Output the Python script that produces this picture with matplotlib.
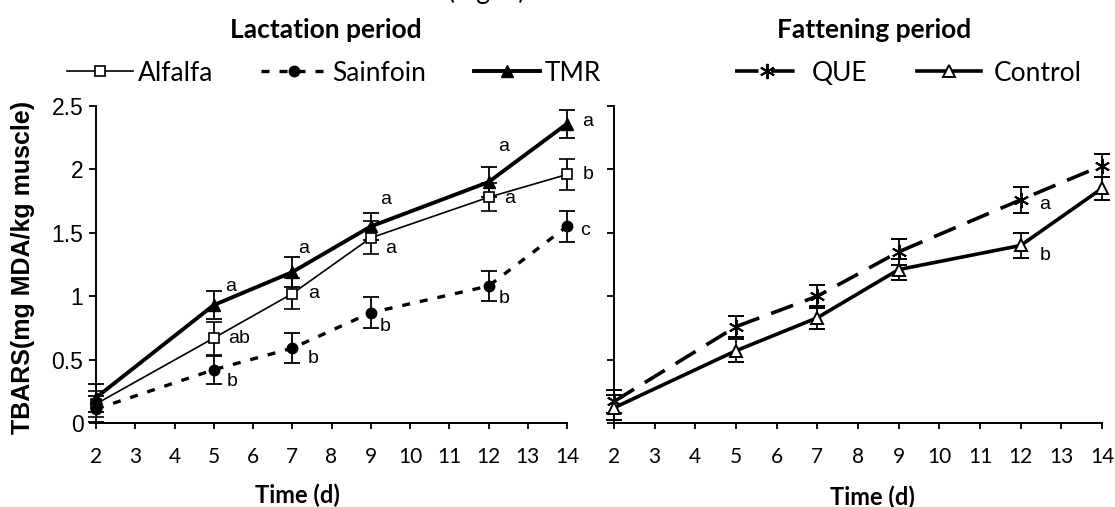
import matplotlib
matplotlib.use("Agg")
import matplotlib.pyplot as plt
from matplotlib.lines import Line2D

# ---------------- data ----------------
days = [2, 5, 7, 9, 12, 14]

alfalfa = [0.15, 0.67, 1.02, 1.46, 1.78, 1.96]
alfalfa_err = [0.10, 0.13, 0.12, 0.13, 0.11, 0.12]
sainfoin = [0.11, 0.42, 0.59, 0.87, 1.08, 1.55]
sainfoin_err = [0.10, 0.11, 0.12, 0.12, 0.12, 0.12]
tmr = [0.20, 0.93, 1.19, 1.55, 1.90, 2.36]
tmr_err = [0.11, 0.11, 0.12, 0.11, 0.12, 0.11]

que = [0.17, 0.76, 1.00, 1.35, 1.76, 2.03]
que_err = [0.09, 0.08, 0.09, 0.10, 0.10, 0.09]
control = [0.12, 0.57, 0.83, 1.21, 1.40, 1.85]
control_err = [0.10, 0.09, 0.09, 0.08, 0.10, 0.09]

alfalfa_lbl = ["", "ab", "a", "a", "a", "b"]
sainfoin_lbl = ["", "b", "b", "b", "b", "c"]
tmr_lbl = ["", "a", "a", "a", "a", "a"]
que_lbl = ["", "", "", "", "a", ""]
control_lbl = ["", "", "", "", "b", ""]

xticks = list(range(2, 15))
yticks = [0, 0.5, 1, 1.5, 2, 2.5]
ytick_labels = ["0", "0.5", "1", "1.5", "2", "2.5"]

CAL = ["Lato", "DejaVu Sans"]
ARI = ["Liberation Sans", "DejaVu Sans"]

fig = plt.figure(figsize=(11.15, 5.07), dpi=100)
W, H = 1115, 507

def px_axes(x0, x1, ytop, ybot):
    return fig.add_axes([x0 / W, 1 - ybot / H, (x1 - x0) / W, (ybot - ytop) / H])

axL = px_axes(96, 567, 106, 423)
axR = px_axes(614, 1102, 106, 423)

def style(ax, show_ylabels):
    ax.set_xlim(2, 14)
    ax.set_ylim(0, 2.5)
    for s in ["top", "right"]:
        ax.spines[s].set_visible(False)
    for s in ["left", "bottom"]:
        ax.spines[s].set_linewidth(1.4)
        ax.spines[s].set_color("black")
    ax.set_xticks(xticks)
    ax.set_xticklabels([str(t) for t in xticks], fontfamily=CAL, fontsize=15)
    ax.set_yticks(yticks)
    if show_ylabels:
        ax.set_yticklabels(ytick_labels, fontfamily=ARI, fontsize=16.5)
    else:
        ax.set_yticklabels([])
    ax.tick_params(axis="x", direction="out", length=4.5, width=1.3, pad=13)
    ax.tick_params(axis="y", direction="out", length=5, width=1.3, pad=4)
    ax.patch.set_alpha(0)

style(axL, True)
style(axR, False)
axL.set_ylabel("TBARS(mg MDA/kg muscle)", fontfamily=ARI, fontsize=18,
               fontweight="bold", labelpad=4)
axL.yaxis.set_label_coords(23 / W, 1 - 267 / H, transform=fig.transFigure)
axL.yaxis.label.set_verticalalignment("center")

fig.text(297 / W, 1 - 495 / H, "Time (d)", fontfamily=CAL, fontsize=17,
         fontweight="bold", ha="center", va="center")
fig.text(872 / W, 1 - 497 / H, "Time (d)", fontfamily=CAL, fontsize=17,
         fontweight="bold", ha="center", va="center")

eb_kw = dict(ecolor="black", elinewidth=1.3, capsize=6, capthick=1.3, zorder=3)

def series(ax, y, err, **kw):
    ax.errorbar(days, y, yerr=err, color="black", clip_on=False, **eb_kw, **kw)

alf_style = dict(lw=1.2, marker="s", ms=7, mfc="white", mec="black", mew=1.2)
sai_style = dict(lw=2.4, ls=(0, (2.4, 3.0)), marker="o", ms=7.5, mfc="black", mec="black")
tmr_style = dict(lw=2.8, marker="^", ms=8.5, mfc="black", mec="black")
que_style = dict(lw=2.6, ls=(0, (6.5, 3.5)), marker=(6, 2, 0), ms=11,
                 mfc="black", mec="black", mew=1.4)
con_style = dict(lw=2.6, marker="^", ms=9, mfc="white", mec="black", mew=1.4)

series(axL, alfalfa, alfalfa_err, **alf_style)
series(axL, sainfoin, sainfoin_err, **sai_style)
series(axL, tmr, tmr_err, **tmr_style)
series(axR, que, que_err, **que_style)
series(axR, control, control_err, **con_style)

# letters (centre offsets from each point)
def letters(ax, y, labels, dx, dy):
    for d, v, l, ox, oy in zip(days, y, labels, dx, dy):
        if l:
            ax.text(d + ox, v + oy, l, fontfamily=ARI, fontsize=14,
                    ha="center", va="center")

letters(axL, tmr, tmr_lbl, [0, 0.43, 0.29, 0.37, 0.39, 0.53],
        [0, 0.15, 0.19, 0.21, 0.28, 0.02])
letters(axL, alfalfa, alfalfa_lbl, [0, 0.65, 0.54, 0.50, 0.54, 0.53],
        [0, 0.0, 0.0, -0.08, -0.01, 0.0])
letters(axL, sainfoin, sainfoin_lbl, [0, 0.46, 0.54, 0.37, 0.39, 0.47],
        [0, -0.09, -0.08, -0.11, -0.10, -0.03])
letters(axR, que, que_lbl, [0, 0, 0, 0, 0.6, 0], [0, 0, 0, 0, -0.04, 0])
letters(axR, control, control_lbl, [0, 0, 0, 0, 0.6, 0], [0, 0, 0, 0, -0.08, 0])

# titles
fig.text(326 / W, 1 - 30 / H, "Lactation period", fontfamily=CAL, fontsize=19,
         fontweight="bold", ha="center", va="center")
fig.text(874 / W, 1 - 30 / H, "Fattening period", fontfamily=CAL, fontsize=19,
         fontweight="bold", ha="center", va="center")
fig.text(487 / W, 1 + 1 / H, "(Fig. 3)", fontfamily=CAL, fontsize=19,
         ha="center", va="baseline")

# legends
hL = [Line2D([], [], color="black", **alf_style),
      Line2D([], [], color="black", **sai_style),
      Line2D([], [], color="black", **tmr_style)]
fig.legend(hL, ["Alfalfa", "Sainfoin", "TMR"], ncol=3, loc="center left",
           bbox_to_anchor=(67 / W, 1 - 73 / H), frameon=False,
           prop={"family": CAL, "size": 19}, handlelength=2.5,
           handletextpad=0.2, columnspacing=1.8, borderaxespad=0, borderpad=0)
hR = [Line2D([], [], color="black", **que_style),
      Line2D([], [], color="black", **con_style)]
fig.legend(hR, ["QUE", "Control"], ncol=2, loc="center left",
           bbox_to_anchor=(735 / W, 1 - 73 / H), frameon=False,
           prop={"family": CAL, "size": 19}, handlelength=2.4,
           handletextpad=0.5, columnspacing=1.9, borderaxespad=0, borderpad=0)

fig.savefig("out.png", dpi=100, facecolor="white")
